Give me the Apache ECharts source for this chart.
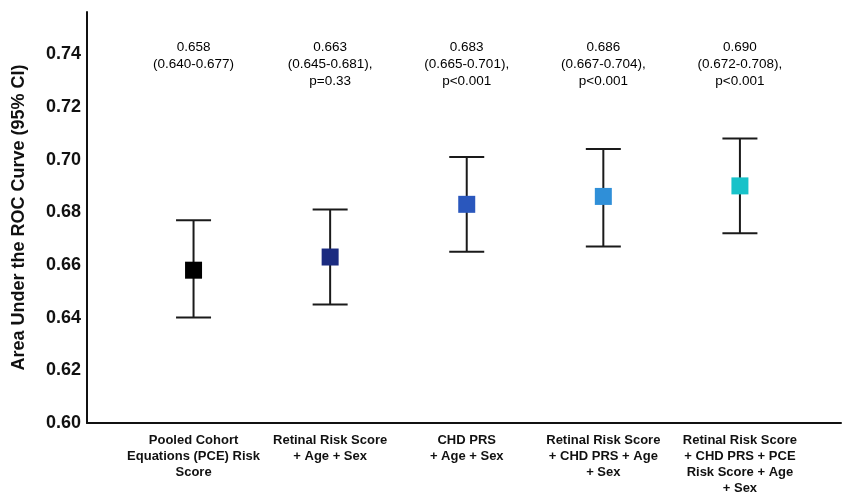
<!DOCTYPE html>
<html>
<head>
<meta charset="utf-8">
<script src="https://cdn.jsdelivr.net/npm/echarts@6/dist/echarts.min.js"></script>
<style>
  html, body { margin: 0; padding: 0; background: #fff; }
  #chart { width: 843px; height: 493px; }
</style>
</head>
<body>
<div id="chart"></div>
<script>
const categories = [
  "Pooled Cohort\nEquations (PCE) Risk\nScore",
  "Retinal Risk Score\n+ Age + Sex",
  "CHD PRS\n+ Age + Sex",
  "Retinal Risk Score\n+ CHD PRS + Age\n+ Sex",
  "Retinal Risk Score\n+ CHD PRS + PCE\nRisk Score + Age\n+ Sex"
];
const auc = [0.658, 0.663, 0.683, 0.686, 0.690];
const ciLow = [0.640, 0.645, 0.665, 0.667, 0.672];
const ciHigh = [0.677, 0.681, 0.701, 0.704, 0.708];
const pValues = ["", "p=0.33", "p<0.001", "p<0.001", "p<0.001"];
const yTicks = [0.60, 0.62, 0.64, 0.66, 0.68, 0.70, 0.72, 0.74];

const markerColors = ["#000000", "#1b2b80", "#2a57bd", "#2f8fd8", "#17c2c9"];
const FONT = "'Liberation Sans', Arial, sans-serif";
const Y_MIN = 0.60, Y_MAX = 0.756;
const ANNOT_Y = 0.7459;

const chart = echarts.init(document.getElementById('chart'), null, { renderer: 'canvas' });

const annotText = auc.map((v, i) => {
  let s = v.toFixed(3) + "\n(" + ciLow[i].toFixed(3) + "-" + ciHigh[i].toFixed(3) + ")";
  if (pValues[i]) s += ",\n" + pValues[i];
  return s;
});

chart.setOption({
  animation: false,
  backgroundColor: '#ffffff',
  textStyle: { fontFamily: FONT },
  grid: { left: 87, right: 2, top: 12, bottom: 70, containLabel: false, outerBoundsMode: 'none' },
  xAxis: {
    type: 'value',
    min: -0.78,
    max: 4.74,
    splitLine: { show: false },
    axisTick: { show: false },
    axisLine: { show: true, onZero: false, lineStyle: { color: '#111', width: 2 } },
    axisLabel: {
      customValues: categories.map((c, i) => i),
      formatter: v => categories[Math.round(v)] || '',
      fontFamily: FONT,
      fontWeight: 'bold',
      fontSize: 13,
      lineHeight: 16,
      color: '#111',
      margin: 9,
      align: 'center'
    }
  },
  yAxis: {
    type: 'value',
    min: Y_MIN,
    max: Y_MAX,
    splitLine: { show: false },
    axisTick: { show: false },
    axisLine: { show: true, onZero: false, lineStyle: { color: '#111', width: 2 } },
    axisLabel: {
      customValues: yTicks,
      formatter: v => v.toFixed(2),
      fontFamily: FONT,
      fontWeight: 'bold',
      fontSize: 18,
      color: '#111',
      margin: 6
    },
    name: 'Area Under the ROC Curve (95% CI)',
    nameLocation: 'middle',
    nameGap: 59,
    nameTextStyle: { fontFamily: FONT, fontWeight: 'bold', fontSize: 18, color: '#111' }
  },
  series: [
    {
      type: 'custom',
      name: 'CI',
      data: auc.map((v, i) => [i, ciLow[i], ciHigh[i]]),
      renderItem: function (params, api) {
        const x = api.value(0);
        const lo = api.coord([x, api.value(1)]);
        const hi = api.coord([x, api.value(2)]);
        const half = 17.5;
        const style = { stroke: '#1a1a1a', lineWidth: 2, fill: null };
        return {
          type: 'group',
          children: [
            { type: 'line', shape: { x1: lo[0], y1: lo[1], x2: hi[0], y2: hi[1] }, style: style },
            { type: 'line', shape: { x1: lo[0] - half, y1: lo[1], x2: lo[0] + half, y2: lo[1] }, style: style },
            { type: 'line', shape: { x1: hi[0] - half, y1: hi[1], x2: hi[0] + half, y2: hi[1] }, style: style }
          ]
        };
      },
      z: 2
    },
    {
      type: 'scatter',
      name: 'AUC',
      symbol: 'rect',
      symbolSize: 17,
      itemStyle: { opacity: 1 },
      data: auc.map((v, i) => ({ value: [i, v], itemStyle: { color: markerColors[i], opacity: 1 } })),
      z: 3
    },
    {
      type: 'scatter',
      name: 'annot',
      symbolSize: 0,
      silent: true,
      itemStyle: { opacity: 1 },
      data: auc.map((v, i) => [i, ANNOT_Y]),
      label: {
        show: true,
        position: 'bottom',
        distance: 0,
        formatter: p => annotText[p.dataIndex],
        fontFamily: FONT,
        fontSize: 13.5,
        lineHeight: 17,
        color: '#000',
        opacity: 1,
        align: 'center'
      }
    }
  ]
});
</script>
</body>
</html>
